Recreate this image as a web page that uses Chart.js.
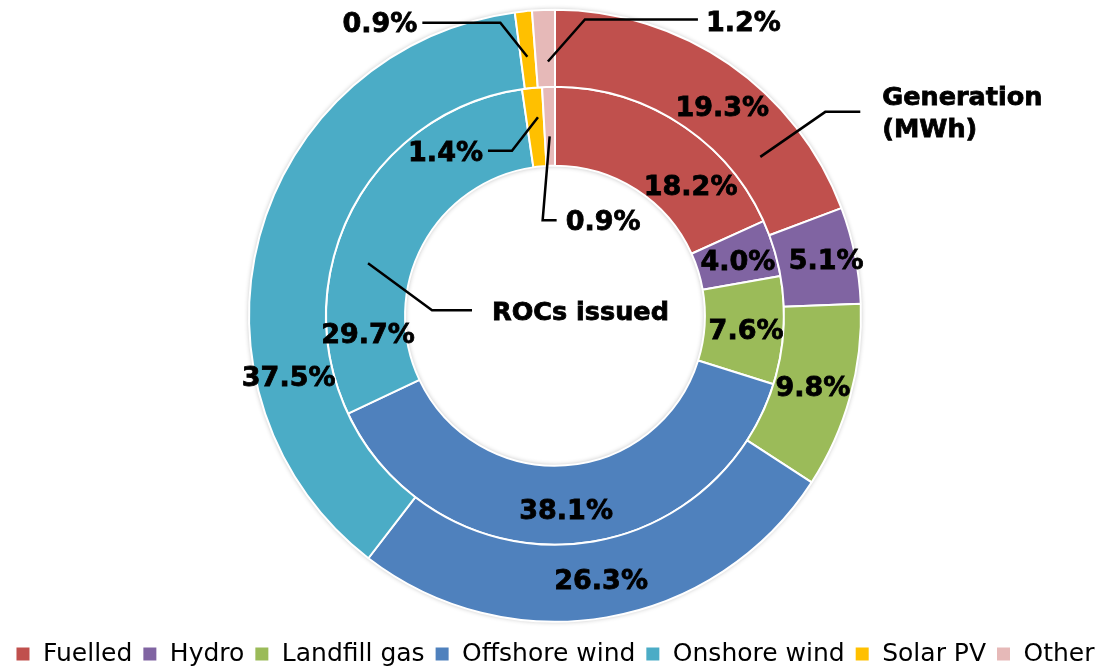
<!DOCTYPE html>
<html>
<head>
<meta charset="utf-8">
<title>Generation and ROCs by technology</title>
<script src="https://cdn.jsdelivr.net/npm/chart.js@4.4.1/dist/chart.umd.min.js"></script>
<style>
  html, body { margin: 0; padding: 0; background: #fff; }
  #wrap { width: 1118px; height: 670px; position: relative; }
</style>
</head>
<body>
<div id="wrap"><canvas id="rocChart"></canvas></div>
<script>
// data (shares in %)
const categories = ['Fuelled', 'Hydro', 'Landfill gas', 'Offshore wind', 'Onshore wind', 'Solar PV', 'Other'];
const generationShare = [19.3, 5.1, 9.8, 26.3, 37.5, 0.9, 1.2];
const rocsShare = [18.2, 4.0, 7.6, 38.1, 29.7, 1.4, 0.9];
const seriesLabels = [['Generation', '(MWh)'], ['ROCs issued']];

const colours = ['#C0504D', '#8064A2', '#9BBB59', '#4F81BD', '#4BACC6', '#FFC000', '#E6B9B8'];
const labelFont = 'bold 27px "DejaVu Sans"';
const nameFont = 'bold 25.5px "DejaVu Sans"';
const textDrop = 3; // 'middle' baseline sits a bit high for digits

// small shifts of the in-ring labels, [dx, dy] from the middle of each slice
const labelNudges = [
  [[15, 10], [9, -4], [0, -1], [1, 0], [-8, 130], null, null],
  [[33, 28], [2, 0], [2, 1], [-2, 4], [-20, 107], null, null]
];
// thin slices get a leader line instead (points relative to slice middle)
const callouts = {
  '0-5': { line: [[0, 7], [-27, -27], [-105, -27]], text: [-110, -28], align: 'right' },
  '0-6': { line: [[3, 13], [40, -29], [153, -29]], text: [161, -27], align: 'left' },
  '1-5': { line: [[2, -10], [-24, 23.5], [-48, 23.5]], text: [-53, 24], align: 'right' },
  '1-6': { line: [[0, 10], [-7, 94], [7, 94]], text: [16, 94], align: 'left' }
};
// ring names
const ringCallouts = [
  { dataset: 0, index: 0, line: [[53, 61], [118, 16], [153, 16]], text: [175, 0], lineGap: 32 },
  { dataset: 1, index: 4, line: [[-20, 37], [44, 84], [84, 84]], text: [104, 84], lineGap: 32 }
];

function sliceMiddle(arc) {
  const p = arc.getProps(['x', 'y', 'startAngle', 'endAngle', 'innerRadius', 'outerRadius'], true);
  const a = (p.startAngle + p.endAngle) / 2;
  const r = (p.innerRadius + p.outerRadius) / 2;
  return { x: p.x + Math.cos(a) * r, y: p.y + Math.sin(a) * r };
}

function drawLeader(ctx, m, pts) {
  ctx.beginPath();
  pts.forEach((pt, i) => {
    if (i === 0) ctx.moveTo(m.x + pt[0], m.y + pt[1]);
    else ctx.lineTo(m.x + pt[0], m.y + pt[1]);
  });
  ctx.stroke();
}

function boldText(ctx, txt, x, y) {
  ctx.fillText(txt, x, y + textDrop);
  ctx.save();
  ctx.lineWidth = 0.8;
  ctx.strokeText(txt, x, y + textDrop);
  ctx.restore();
}

// soft shadow round the rings, like the original
const ringShadow = {
  id: 'ringShadow',
  beforeDatasetsDraw(chart) {
    const outer = chart.getDatasetMeta(0).data[0];
    const inner = chart.getDatasetMeta(1).data[0];
    if (!outer || !inner) return;
    const o = outer.getProps(['x', 'y', 'outerRadius'], true);
    const ir = inner.getProps(['innerRadius'], true).innerRadius;
    const ctx = chart.ctx;
    ctx.save();
    ctx.shadowColor = 'rgba(0,0,0,0.3)';
    ctx.shadowBlur = 5;
    ctx.fillStyle = '#fff';
    ctx.beginPath();
    ctx.arc(o.x, o.y, o.outerRadius, 0, Math.PI * 2);
    ctx.arc(o.x, o.y, ir, 0, Math.PI * 2, true);
    ctx.fill('evenodd');
    ctx.restore();
  }
};

const sliceLabels = {
  id: 'sliceLabels',
  afterDatasetsDraw(chart) {
    const ctx = chart.ctx;
    ctx.save();
    ctx.font = labelFont;
    ctx.fillStyle = '#000';
    ctx.strokeStyle = '#000';
    ctx.lineWidth = 2.5;
    ctx.textBaseline = 'middle';
    chart.data.datasets.forEach((ds, di) => {
      const meta = chart.getDatasetMeta(di);
      meta.data.forEach((arc, i) => {
        const m = sliceMiddle(arc);
        const txt = ds.data[i].toFixed(1) + '%';
        const c = callouts[di + '-' + i];
        if (c) {
          drawLeader(ctx, m, c.line);
          ctx.textAlign = c.align;
          boldText(ctx, txt, m.x + c.text[0], m.y + c.text[1]);
        } else {
          const n = labelNudges[di][i] || [0, 0];
          ctx.textAlign = 'center';
          boldText(ctx, txt, m.x + n[0], m.y + n[1]);
        }
      });
    });
    ctx.font = nameFont;
    ringCallouts.forEach(rc => {
      const arc = chart.getDatasetMeta(rc.dataset).data[rc.index];
      const m = sliceMiddle(arc);
      drawLeader(ctx, m, rc.line);
      ctx.textAlign = 'left';
      seriesLabels[rc.dataset].forEach((t, k) => {
        boldText(ctx, t, m.x + rc.text[0], m.y + rc.text[1] + k * rc.lineGap);
      });
    });
    ctx.restore();
  }
};

const ctx = document.getElementById('rocChart');
new Chart(ctx.getContext('2d'), {
  type: 'doughnut',
  data: {
    labels: categories,
    datasets: [{
      label: seriesLabels[0].join(' '),
      data: generationShare,
      backgroundColor: colours,
      borderColor: '#fff',
      borderWidth: 2,
      weight: 77
    }, {
      label: seriesLabels[1].join(' '),
      data: rocsShare,
      backgroundColor: colours,
      borderColor: '#fff',
      borderWidth: 2,
      weight: 79
    }]
  },
  options: {
    responsive: true,
    maintainAspectRatio: false,
    animation: false,
    radius: 306,
    cutout: '49%',
    layout: {
      padding: { top: 0, left: 0, right: 8, bottom: -6.5 }
    },
    plugins: {
      tooltip: { enabled: false },
      legend: {
        position: 'bottom',
        labels: {
          color: '#000',
          font: { family: '"DejaVu Sans"', size: 25 },
          boxWidth: 15,
          boxHeight: 15,
          padding: 10
        }
      }
    }
  },
  plugins: [ringShadow, sliceLabels]
});
</script>
</body>
</html>
